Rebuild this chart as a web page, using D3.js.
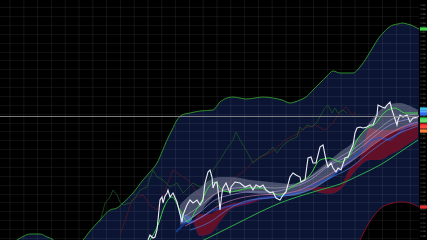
<!DOCTYPE html>
<html><head><meta charset="utf-8">
<script src="https://cdn.jsdelivr.net/npm/d3@7"></script>
<style>html,body{margin:0;padding:0;background:#000;overflow:hidden}</style>
</head><body>
<svg id="c" width="427" height="240"></svg>
<script>
// ---- DATA (bar index, price level) ----
const price = [[148,0],[150,5],[153,2],[155,3],[157,10],[160,40],[162,43],[163,37],[165,44],[167,47],[168,50],[170,43],[173,47],[177,38],[179,30],[182,18],[183,25],[187,35],[190,40],[193,37],[197,40],[200,35],[203,40],[205,57],[208,68],[210,70],[212,63],[213,52],[215,57],[217,58],[218,50],[220,30],[222,47],[223,52],[226,57],[230,47],[231,53],[235,58],[240,57],[245,53],[250,55],[253,50],[256,55],[260,53],[263,55],[266,50],[270,47],[273,48],[276,42],[280,40],[283,45],[286,48],[290,63],[293,67],[296,65],[300,63],[301,58],[305,60],[308,82],[311,83],[313,77],[316,77],[320,93],[323,95],[326,80],[328,73],[331,77],[333,72],[336,68],[338,72],[341,70],[345,82],[348,83],[350,88],[353,95],[355,107],[357,112],[360,113],[363,112],[367,113],[370,115],[373,115],[377,125],[378,135],[382,133],[385,132],[387,135],[390,138],[392,130],[393,127],[397,115],[398,120],[400,125],[403,123],[407,125],[410,118],[413,122],[417,123],[419,124]];
const envUpper = [[0,-20],[10,-6],[17,0],[24,4],[30,6],[40,6],[47,3],[52,1],[60,-6],[70,-8],[78,-4],[83,0],[90,9],[100,20],[110,30],[117,32],[123,37],[133,47],[143,60],[150,68],[157,77],[162,88],[167,100],[172,110],[177,120],[182,125],[190,127],[200,129],[213,130],[220,138],[227,142],[233,143],[240,142],[246,141],[255,142],[263,143],[273,142],[282,140],[290,137],[300,140],[306,143],[313,150],[320,157],[327,164],[333,169],[340,167],[347,167],[353,167],[360,173],[367,183],[373,193],[378,201],[383,207],[388,212],[393,215],[398,216],[403,217],[407,216],[411,215],[415,213],[419,211]];
const envLower = [[0,-160],[100,-130],[200,-100],[300,-50],[340,-20],[355,-5],[360,0],[366,12],[373,23],[380,31],[386,35],[393,37],[400,38],[405,38],[410,37],[415,35],[419,33]];
const ribbonX = [180,190,200,210,220,230,240,250,260,270,280,290,300,310,320,330,340,350,360,370,380,390,400,410,418];
const ribbonUp = [35,45,52,60,63,63,62,60,59,58,57,56,58,64,72,80,88,95,105,118,130,136,137,134,130];
const ribbonLo = [15,20,28,40,48,48,48,47,46,45,44,44,46,50,55,62,70,77,85,93,100,106,110,113,115];
const cloudX = [180,190,200,210,220,230,240,250,260,270,280,290,300,310,320,330,340,350,360,370,380,390,400,410,418];
const spanA = [26,24,4,6,18,30,34,36,40,42,44,46,48,50,47,46,50,62,74,80,80,85,90,97,102];
const spanB = [18,16,26,26,32,36,38,40,42,44,45,46,50,52,53,52,54,72,82,112,110,110,112,116,118];
const kijun = [[176,8],[182,14],[186,18],[192,18],[196,20],[205,25],[213,30],[222,32],[230,34],[245,37],[260,42],[280,44],[300,48],[305,52],[313,55],[330,62],[345,75],[356,85],[365,92],[372,100],[380,102],[390,100],[400,108],[410,115],[418,118]];
const maLong = [[200,-2],[220,8],[240,18],[260,28],[280,37],[300,44],[320,50],[340,56],[360,65],[380,75],[400,88],[418,100]];
const maFast = [[150,0],[158,15],[165,35],[172,43],[180,30],[188,18],[195,28],[202,40],[208,52],[215,58],[222,50],[230,48],[240,50],[250,52],[260,52],[270,48],[280,45],[290,52],[300,58],[310,65],[320,80],[330,82],[340,78],[350,85],[356,98],[365,110],[375,116],[385,128],[395,132],[405,127],[418,127]];
const maLav = [[185,18],[200,28],[215,40],[230,45],[250,48],[270,48],[290,52],[310,60],[330,75],[350,85],[370,100],[390,115],[418,122]];
const maPink = [[185,14],[200,22],[220,35],[240,42],[260,45],[280,46],[300,50],[320,60],[340,72],[360,85],[380,100],[400,112],[418,118]];
const maBlue = [[190,10],[210,18],[230,32],[250,40],[270,42],[290,45],[310,50],[330,62],[350,72],[370,88],[390,102],[418,114]];
const maGrey = [[185,24],[200,34],[215,46],[235,52],[255,53],[275,52],[295,55],[315,66],[335,80],[355,92],[375,108],[395,122],[418,126]];
const dimGreen = [[100,18],[105,37],[110,43],[113,50],[117,45],[120,38],[123,35],[130,37],[135,42],[140,50],[147,53],[150,62],[153,70],[157,63],[163,60],[170,53],[177,57],[183,47],[188,52],[193,57],[200,53],[207,57],[213,70],[220,80],[226,90],[233,100],[236,108],[240,100],[246,90],[253,77],[260,83],[267,87],[273,93],[277,87],[283,95],[290,100],[297,103],[300,113],[303,110],[307,115],[312,113],[317,118],[322,127],[325,132],[328,135],[332,127],[335,132],[338,127],[340,128],[343,130],[347,127]];
const dimRed = [[120,5],[127,25],[132,40],[137,43],[143,45],[150,35],[157,30],[165,50],[173,70],[180,65],[188,60],[195,50],[205,40],[215,45],[225,55],[235,62],[245,70],[255,80],[265,85],[275,90],[285,100],[295,105],[305,112],[315,115],[325,110],[333,117],[340,128],[346,133],[352,125],[356,128]];
const lastPrice = 123.5;
const tagValues = [211,131,128,126,121,119,115,113,109,33];
const tagColors = ["#3fd84a","#38c4ee","#5aa8ff","#2f6cf0","#3fcf5a","#6ee06e","#e02a2a","#ff4a3a","#ff8030","#e53030"];
const tickStep = 4.44;

// ---- SCALES ----
const PW = 419, H = 240;
const x = d3.scaleLinear().domain([0, 419]).range([0, PW]);
const y = d3.scaleLinear().domain([0, 240]).range([H, 0]);
const svg = d3.select("#c");
svg.append("rect").attr("width",427).attr("height",H).attr("fill","#000");
const defs = svg.append("defs");
defs.append("clipPath").attr("id","plot").append("rect").attr("width",PW).attr("height",H);
const g = svg.append("g").attr("clip-path","url(#plot)");
const line = d3.line().x(d=>x(d[0])).y(d=>y(d[1])).curve(d3.curveLinear);
const smooth = d3.line().x(d=>x(d[0])).y(d=>y(d[1])).curve(d3.curveMonotoneX);

// envelope fill
const envPoly = envUpper.concat(envLower.slice().reverse());
g.append("path").attr("d", line(envPoly)+"Z").attr("fill","#0b1533");

// grid
const gx = d3.range(10, PW, 13.8), gy = d3.range(2, 240, tickStep*2);
g.selectAll(".gx").data(gx).join("line").attr("x1",d=>x(d)).attr("x2",d=>x(d)).attr("y1",0).attr("y2",H)
  .attr("stroke","rgba(255,255,255,0.07)").attr("stroke-width",1);
g.selectAll(".gy").data(gy).join("line").attr("y1",d=>Math.round(y(d))+0.5).attr("y2",d=>Math.round(y(d))+0.5).attr("x1",0).attr("x2",PW)
  .attr("stroke","rgba(255,255,255,0.06)").attr("stroke-width",1);

// dim lines
g.append("path").attr("d",line(dimRed)).attr("fill","none").attr("stroke","#521829").attr("stroke-width",0.8);
g.append("path").attr("d",line(dimGreen)).attr("fill","none").attr("stroke","#1c5229").attr("stroke-width",0.8);

// cloud
const cl = cloudX.map((d,i)=>({x:d,a:spanA[i],b:spanB[i]}));
const aboveA = d3.area().x(d=>x(d.x)).y0(0).y1(d=>y(d.a)).curve(d3.curveMonotoneX);
const belowA = d3.area().x(d=>x(d.x)).y0(H).y1(d=>y(d.a)).curve(d3.curveMonotoneX);
defs.append("clipPath").attr("id","cab").append("path").attr("d",aboveA(cl));
defs.append("clipPath").attr("id","cbe").append("path").attr("d",belowA(cl));
const between = d3.area().x(d=>x(d.x)).y0(d=>y(d.a)).y1(d=>y(d.b)).curve(d3.curveMonotoneX);
g.append("g").attr("clip-path","url(#cab)").append("path").attr("d",between(cl)).attr("fill","#6b1026").attr("opacity",0.9);
g.append("g").attr("clip-path","url(#cbe)").append("path").attr("d",between(cl)).attr("fill","#1c3f9a").attr("opacity",0.9);

// ribbon
const rib = ribbonX.map((d,i)=>({x:d,u:ribbonUp[i],l:ribbonLo[i]}));
g.append("path").attr("d",d3.area().x(d=>x(d.x)).y0(d=>y(d.l)).y1(d=>y(d.u)).curve(d3.curveMonotoneX)(rib))
  .attr("fill","rgba(195,195,220,0.32)");

// kijun
g.append("path").attr("d",line(kijun)).attr("fill","none").attr("stroke","#2050c8").attr("stroke-width",1.8).attr("opacity",0.6);

// MAs
[[maGrey,"#c8c8dc",0.6],[maBlue,"#4a86e8",0.8],[maPink,"#d27ab2",0.8],[maLav,"#a99ae0",0.8]].forEach(([d,c,o])=>{
  g.append("path").attr("d",smooth(d)).attr("fill","none").attr("stroke",c).attr("stroke-width",0.8).attr("opacity",o);
});
g.append("path").attr("d",smooth(maLong)).attr("fill","none").attr("stroke","#2ea84c").attr("stroke-width",1);
g.append("path").attr("d",smooth(maFast)).attr("fill","none").attr("stroke","#3ccc48").attr("stroke-width",1);

// envelope edges
g.append("path").attr("d",smooth(envUpper)).attr("fill","none").attr("stroke","#2f8a2c").attr("stroke-width",1);
g.append("path").attr("d",smooth(envLower)).attr("fill","none").attr("stroke","#7a1024").attr("stroke-width",1);

// price
g.append("path").attr("d",line(price)).attr("fill","none").attr("stroke","#ececf4").attr("stroke-width",1.1);

// last price line
svg.append("line").attr("x1",0).attr("x2",PW).attr("y1",y(lastPrice)).attr("y2",y(lastPrice))
  .attr("stroke","#9c9c9c").attr("stroke-width",0.8);

// right axis labels
const ticks = d3.range(4, 236, tickStep);
svg.selectAll(".tl").data(ticks).join("text").attr("x",PW+1.2).attr("y",d=>y(d)+0.9)
  .attr("font-family","DejaVu Sans").attr("font-size",2.4).attr("fill","#7a7a7a")
  .text((d,i)=>d3.format(".2f")(1.08+i*0.01));
svg.selectAll(".tag").data(tagValues).join("rect").attr("x",PW+1).attr("width",7.5).attr("y",d=>y(d)-1.6).attr("height",3.2)
  .attr("fill",(d,i)=>tagColors[i]);
</script>
</body></html>
